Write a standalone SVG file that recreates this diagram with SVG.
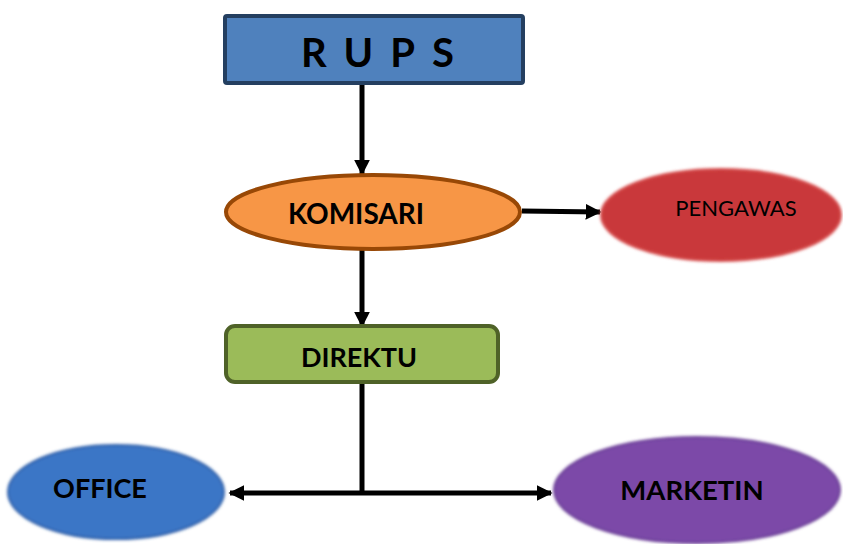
<svg xmlns="http://www.w3.org/2000/svg" width="843" height="544" viewBox="0 0 843 544">
<defs>
<style>
.t{font-family:Lato,"Open Sans","Liberation Sans",sans-serif;font-weight:bold;fill:#000;text-anchor:middle}
.n{font-weight:normal}
.ln{stroke:#000;stroke-width:5;fill:none}
</style>
<marker id="ah" viewBox="0 0 10 10" refX="9" refY="5" markerWidth="3.2" markerHeight="3.2" orient="auto-start-reverse" markerUnits="strokeWidth">
<path d="M0,0 L10,5 L0,10 z" fill="#000"/>
</marker>
<filter id="blur" x="-10%" y="-10%" width="120%" height="120%"><feGaussianBlur stdDeviation="1.5"/></filter>
</defs>
<rect width="843" height="544" fill="#fff"/>
<g id="connectors">
<line class="ln" x1="362" y1="84" x2="362" y2="174" marker-end="url(#ah)"/>
<line class="ln" x1="522" y1="211" x2="600" y2="212" marker-end="url(#ah)"/>
<line class="ln" x1="362" y1="250" x2="362" y2="326" marker-end="url(#ah)"/>
<line class="ln" x1="362" y1="383" x2="362" y2="493"/>
<line class="ln" x1="230" y1="493" x2="551" y2="493" marker-start="url(#ah)" marker-end="url(#ah)"/>
</g>
<g id="rups">
<rect x="225" y="16" width="298" height="67" fill="#4f81bd" stroke="#243f60" stroke-width="4" rx="2"/>
<text class="t" x="386" y="67" font-size="40" letter-spacing="17">RUPS</text>
</g>
<g id="komisari">
<ellipse cx="373" cy="212" rx="147" ry="37" fill="#f79646" stroke="#984806" stroke-width="4"/>
<text class="t" x="356" y="224" font-size="28">KOMISARI</text>
</g>
<g id="pengawas">
<ellipse cx="721" cy="215" rx="120" ry="46" fill="#c9393a" stroke="#d85050" stroke-width="2" filter="url(#blur)"/>
<text class="t n" x="736" y="216" font-size="22">PENGAWAS</text>
</g>
<g id="direktu">
<rect x="226" y="326" width="272" height="56" rx="9" fill="#9bbb59" stroke="#4f6228" stroke-width="4"/>
<text class="t" x="359" y="367" font-size="27">DIREKTU</text>
</g>
<g id="office">
<ellipse cx="116" cy="492" rx="108" ry="47" fill="#3b76c6" stroke="#2f5fa8" stroke-width="2" filter="url(#blur)"/>
<text class="t" x="100" y="498" font-size="27">OFFICE</text>
</g>
<g id="marketin">
<ellipse cx="697" cy="490" rx="143" ry="53" fill="#7b4aa8" stroke="#6a3e96" stroke-width="2" filter="url(#blur)"/>
<text class="t" x="692" y="500" font-size="27.5">MARKETIN</text>
</g>
</svg>
